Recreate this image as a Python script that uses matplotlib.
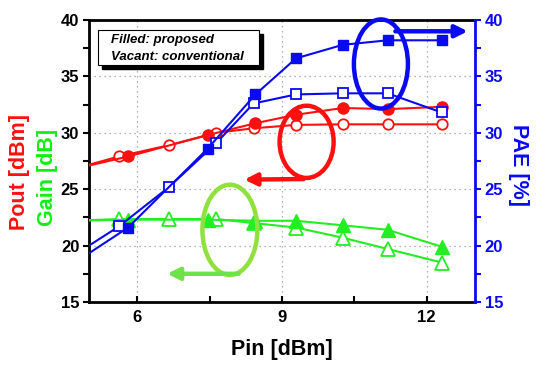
import matplotlib
matplotlib.use("Agg")
import matplotlib.pyplot as plt
from matplotlib.patches import Ellipse, Rectangle

plt.rcParams['font.family'] = ['Liberation Sans', 'DejaVu Sans']
plt.rcParams['font.weight'] = 'bold'

# ---- data ----
pin_prop = [4.6, 5.81, 7.46, 8.45, 9.29, 10.26, 11.19, 12.31]
pin_conv = [4.6, 5.62, 6.66, 7.64, 8.41, 9.29, 10.26, 11.19, 12.31]

pout_prop = [26.7, 27.9, 29.8, 30.85, 31.6, 32.2, 32.1, 32.3]
pout_conv = [26.7, 27.9, 28.9, 30.0, 30.4, 30.7, 30.75, 30.75, 30.75]

gain_prop = [22.2, 22.3, 22.3, 22.2, 22.2, 21.8, 21.4, 19.9]
gain_conv = [22.2, 22.35, 22.35, 22.35, 22.0, 21.6, 20.7, 19.7, 18.5]

pae_prop = [18.2, 21.6, 28.6, 33.4, 36.6, 37.8, 38.2, 38.2]
pae_conv = [18.9, 21.7, 25.2, 29.1, 32.6, 33.4, 33.5, 33.5, 31.8]

xticks = [6, 9, 12]
yticks = [15, 20, 25, 30, 35, 40]

RED = '#ff1010'
GREEN = '#22ee22'
BLUE = '#0a0af0'

fig = plt.figure(figsize=(5.5, 3.7), dpi=100)
ax = fig.add_axes([89/550, 68/370, 386/550, 282/370])
ax2 = ax.twinx()

ax.set_xlim(5, 13)
ax.set_ylim(15, 40)
ax2.set_ylim(15, 40)

# grid
for xv in xticks:
    ax.axvline(xv, color='#999999', ls=(0, (1, 3)), lw=0.9, zorder=0)
for yv in [20, 25, 30, 35]:
    ax.axhline(yv, color='#999999', ls=(0, (1, 3)), lw=0.9, zorder=0)

lw = 1.5
ax.plot(pin_conv, pout_conv, '-o', color=RED, lw=lw, ms=7.5, mfc='white', mec=RED, mew=1.3, zorder=3)
ax.plot(pin_prop, pout_prop, '-o', color=RED, lw=lw, ms=8, mfc=RED, mec=RED, zorder=3)
ax.plot(pin_conv, gain_conv, '-^', color=GREEN, lw=lw, ms=9.5, mfc='white', mec=GREEN, mew=1.3, zorder=3)
ax.plot(pin_prop, gain_prop, '-^', color=GREEN, lw=lw, ms=9.5, mfc=GREEN, mec=GREEN, zorder=3)
ax2.plot(pin_conv, pae_conv, '-s', color=BLUE, lw=lw, ms=7.8, mfc='white', mec=BLUE, mew=1.3, zorder=3)
ax2.plot(pin_prop, pae_prop, '-s', color=BLUE, lw=lw, ms=7.8, mfc=BLUE, mec=BLUE, zorder=3)

# ellipses and arrows
ax.add_patch(Ellipse((9.51, 29.2), 1.12, 6.4, fill=False, ec=RED, lw=3.2, zorder=4))
ax.annotate('', xy=(8.22, 25.85), xytext=(9.45, 25.9),
            arrowprops=dict(arrowstyle='-|>', color=RED, lw=3.2, mutation_scale=18,
                            shrinkA=0, shrinkB=0), zorder=4)
ax.add_patch(Ellipse((7.92, 21.4), 1.14, 8.0, fill=False, ec='#90e040', lw=3.2, zorder=4))
ax.annotate('', xy=(6.62, 17.5), xytext=(8.1, 17.5),
            arrowprops=dict(arrowstyle='-|>', color='#6ee24a', lw=3.2, mutation_scale=18,
                            shrinkA=0, shrinkB=0), zorder=4)
ax.add_patch(Ellipse((11.05, 36.1), 1.12, 7.9, fill=False, ec=BLUE, lw=3.2, zorder=4, clip_on=False))
ax.annotate('', xy=(12.85, 39.0), xytext=(11.35, 39.0),
            arrowprops=dict(arrowstyle='-|>', color=BLUE, lw=3.2, mutation_scale=18,
                            shrinkA=0, shrinkB=0), zorder=4, annotation_clip=False)

# legend-like box with shadow
bx0, by0, bw, bh = 0.0233, 0.840, 0.417, 0.1245
ax.add_patch(Rectangle((bx0 + 0.011, by0 - 0.015), bw, bh, transform=ax.transAxes,
                       fc='black', ec='black', zorder=5))
ax.add_patch(Rectangle((bx0, by0), bw, bh, transform=ax.transAxes,
                       fc='white', ec='black', lw=0.8, zorder=6))
ax.text(0.057, 0.929, 'Filled: proposed', transform=ax.transAxes, fontsize=9.5,
        fontweight='bold', fontstyle='italic', va='center', ha='left', zorder=7)
ax.text(0.057, 0.869, 'Vacant: conventional', transform=ax.transAxes, fontsize=9.5,
        fontweight='bold', fontstyle='italic', va='center', ha='left', zorder=7)

# ticks & spines
ax.set_xticks(xticks)
ax.set_xticks([7.5, 10.5], minor=True)
ax.set_yticks(yticks)
ax.set_yticks([17.5, 22.5, 27.5, 32.5, 37.5], minor=True)
ax2.set_yticks(yticks)
ax2.set_yticks([17.5, 22.5, 27.5, 32.5, 37.5], minor=True)

ax.tick_params(axis='x', which='both', direction='in', length=4, width=1.5, labelsize=12, pad=6)
ax.tick_params(axis='y', which='both', direction='out', length=4, width=1.5, labelsize=12, pad=3)
ax2.tick_params(axis='y', which='both', direction='out', length=4, width=1.5, labelsize=12,
                pad=3, colors=BLUE)
for lab in ax.get_xticklabels() + ax.get_yticklabels() + ax2.get_yticklabels():
    lab.set_fontweight('bold')

for sp in ['left', 'bottom', 'top']:
    ax.spines[sp].set_linewidth(2)
ax.spines['right'].set_visible(False)
for sp in ['left', 'bottom', 'top']:
    ax2.spines[sp].set_visible(False)
ax2.spines['right'].set_color(BLUE)
ax2.spines['right'].set_linewidth(2)

ax.set_xlabel('Pin [dBm]', fontsize=15.5, fontweight='bold', labelpad=10)
fig.text(20/550, 1 - 172/370, 'Pout [dBm]', color=RED, fontsize=15.5, fontweight='bold',
         rotation=90, ha='center', va='center')
fig.text(48/550, 1 - 177/370, 'Gain [dB]', color='#11ee11', fontsize=15.5, fontweight='bold',
         rotation=90, ha='center', va='center')
fig.text(518/550, 1 - 165/370, 'PAE [%]', color=BLUE, fontsize=15.5, fontweight='bold',
         rotation=270, ha='center', va='center')

fig.savefig('out.png', dpi=100)
